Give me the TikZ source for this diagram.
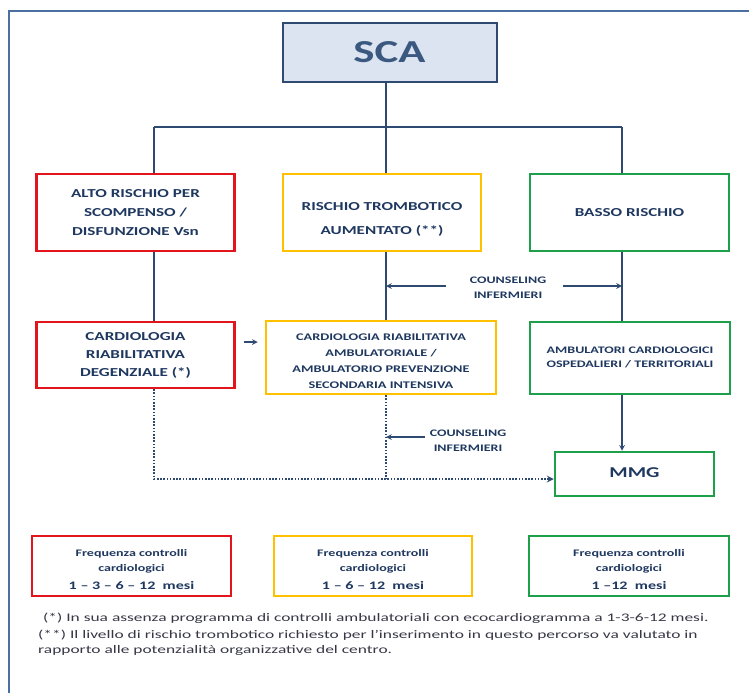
\documentclass[tikz,border=0pt]{standalone}
\usepackage{fontspec}
\setmainfont{Carlito}
\usepackage{graphicx}
\usetikzlibrary{arrows,positioning}
\definecolor{scanavy}{RGB}{46,74,112}
\definecolor{scafill}{RGB}{219,228,240}
\definecolor{scaframe}{RGB}{74,111,160}
\definecolor{scatext}{RGB}{31,56,96}
\definecolor{scatitle}{RGB}{59,89,128}
\definecolor{scared}{RGB}{226,20,28}
\definecolor{scayellow}{RGB}{255,192,0}
\definecolor{scagreen}{RGB}{30,160,75}
\definecolor{notegray}{RGB}{55,55,70}
\tikzstyle{link} = [line width=1.5pt, color=scanavy]
\tikzstyle{arrow} = [line width=1.5pt,->,>=stealth,color=scanavy]
\tikzstyle{dotlink} = [line width=2pt, dash pattern=on 1.6pt off 1.6pt, ->, >=stealth, color=scanavy]
\tikzstyle{riskbox} = [rectangle, draw, line width=2.5pt, fill=white, text=scatext, inner sep=0pt, font=\bfseries]
\tikzstyle{counsel} = [inner sep=0pt, text=scatext, font=\bfseries\fontsize{10}{15}\selectfont]
\tikzstyle{note} = [inner sep=0pt, anchor=west, text=notegray, font=\fontsize{11.6}{13}\selectfont]
\newcommand{\wide}[1]{\scalebox{1.4}[1]{\begin{tabular}{@{}c@{}}#1\end{tabular}}}
\newcommand{\freqtext}[1]{\fontsize{10}{15}\selectfont\wide{Frequenza controlli\\cardiologici\\[3pt]\fontsize{11.5}{15}\selectfont #1}\rule{0pt}{34.5pt}}

\begin{document}
\begin{tikzpicture}[x=1pt, y=1pt]
    \useasboundingbox (0,0) rectangle (749,-693);
    \draw[line width=2pt, color=scaframe] (749,-11) -- (8.5,-11) -- (8.5,-693);

    \node[draw=scanavy, fill=scafill, line width=2pt, minimum width=214pt, minimum height=58pt] (sca) at (389.5,-52.5)
        {\fontsize{32}{32}\selectfont\bfseries\color{scatitle}\scalebox{1.4}[1]{SCA}};

    % first row
    \node[riskbox, draw=scared, minimum width=198pt, minimum height=77pt] (alto) at (135.5,-212.5)
        {\fontsize{12.2}{19}\selectfont\wide{ALTO RISCHIO PER\\SCOMPENSO /\\DISFUNZIONE Vsn}};
    \node[riskbox, draw=scayellow, minimum width=198pt, minimum height=77pt] (trombo) at (382,-212.5)
        {\fontsize{12.2}{24}\selectfont\wide{RISCHIO TROMBOTICO\\AUMENTATO (**)}\rule{0pt}{38pt}};
    \node[riskbox, draw=scagreen, minimum width=199pt, minimum height=77pt] (basso) at (629.5,-212.5)
        {\fontsize{12.2}{19}\selectfont\wide{BASSO RISCHIO}};

    % second row
    \node[riskbox, draw=scared, minimum width=198pt, minimum height=66pt] (degenz) at (135.5,-355)
        {\fontsize{12.2}{18}\selectfont\wide{CARDIOLOGIA\\RIABILITATIVA\\DEGENZIALE (*)}};
    \node[riskbox, draw=scayellow, minimum width=230pt, minimum height=73pt] (ambul) at (381,-357.5)
        {\fontsize{10.2}{16}\selectfont\wide{CARDIOLOGIA RIABILITATIVA\\AMBULATORIALE /\\AMBULATORIO PREVENZIONE\\SECONDARIA INTENSIVA}\rule{0pt}{41.5pt}};
    \node[riskbox, draw=scagreen, minimum width=200pt, minimum height=72pt] (territ) at (630,-358)
        {\fontsize{10}{14}\selectfont\wide{AMBULATORI CARDIOLOGICI\\OSPEDALIERI / TERRITORIALI}};
    \node[riskbox, draw=scagreen, minimum width=159pt, minimum height=44pt] (mmg) at (634.5,-474)
        {\fontsize{15}{15}\selectfont\wide{MMG}};

    \node[counsel] (cnsA) at (508,-287.5) {\wide{COUNSELING\\INFERMIERI}};
    \node[counsel] (cnsB) at (468,-440.5) {\wide{COUNSELING\\INFERMIERI}};

    % bus lines
    \coordinate (busL) at (154,-127);
    \coordinate (busM) at (386,-127);
    \coordinate (busR) at (622,-127);
    \draw[link] (sca.south -| busM) -- (busM);
    \draw[link] (busL) -- (busR);
    \draw[link] (busL) -- (busL |- alto.north);
    \draw[link] (busM) -- (busM |- trombo.north);
    \draw[link] (busR) -- (busR |- basso.north);
    \draw[link] (busL |- alto.south) -- (busL |- degenz.north);
    \draw[link] (busM |- trombo.south) -- (busM |- ambul.north);
    \draw[link] (busR |- basso.south) -- (busR |- territ.north);

    \draw[arrow] ([xshift=-24pt,yshift=1.5pt]cnsA.west) -- (busM |- 0,-286);
    \draw[arrow] ([xshift=17pt,yshift=1.5pt]cnsA.east) -- (busR |- 0,-286);
    \draw[arrow] ([xshift=8pt,yshift=13pt]degenz.east) -- ([xshift=-7pt,yshift=15.5pt]ambul.west);
    \draw[arrow] (busR |- territ.south) -- (busR |- mmg.north);
    \draw[arrow] ([xshift=-5pt,yshift=3.5pt]cnsB.west) -- (busM |- 0,-437);

    % dotted paths to MMG
    \coordinate (dotjoin) at (386,-479);
    \draw[dotlink] (busL |- degenz.south) |- ([yshift=-5pt]mmg.west);
    \draw[dotlink, -] (busM |- ambul.south) -- (dotjoin);

    % frequency boxes
    \node[riskbox, draw=scared, minimum width=199pt, minimum height=60pt] (freqA) at (131.5,-566)
        {\freqtext{1 -- 3 -- 6 -- 12~ mesi}};
    \node[riskbox, draw=scayellow, minimum width=198pt, minimum height=60pt] (freqB) at (373,-566)
        {\freqtext{1 -- 6 -- 12~ mesi}};
    \node[riskbox, draw=scagreen, minimum width=200pt, minimum height=60pt] (freqC) at (629,-566)
        {\freqtext{1 --12~ mesi}};

    % footnotes
    \node[note] (noteA) at (43,-618) {\scalebox{1.5}[1]{(*) In sua assenza programma di controlli ambulatoriali con ecocardiogramma a 1-3-6-12 mesi.}};
    \node[note] (noteB) at (38,-635) {\scalebox{1.5}[1]{(**) Il livello di rischio trombotico richiesto per l’inserimento in questo percorso va valutato in}};
    \node[note] (noteC) at (38,-650) {\scalebox{1.5}[1]{rapporto alle potenzialità organizzative del centro.}};
\end{tikzpicture}
\end{document}
